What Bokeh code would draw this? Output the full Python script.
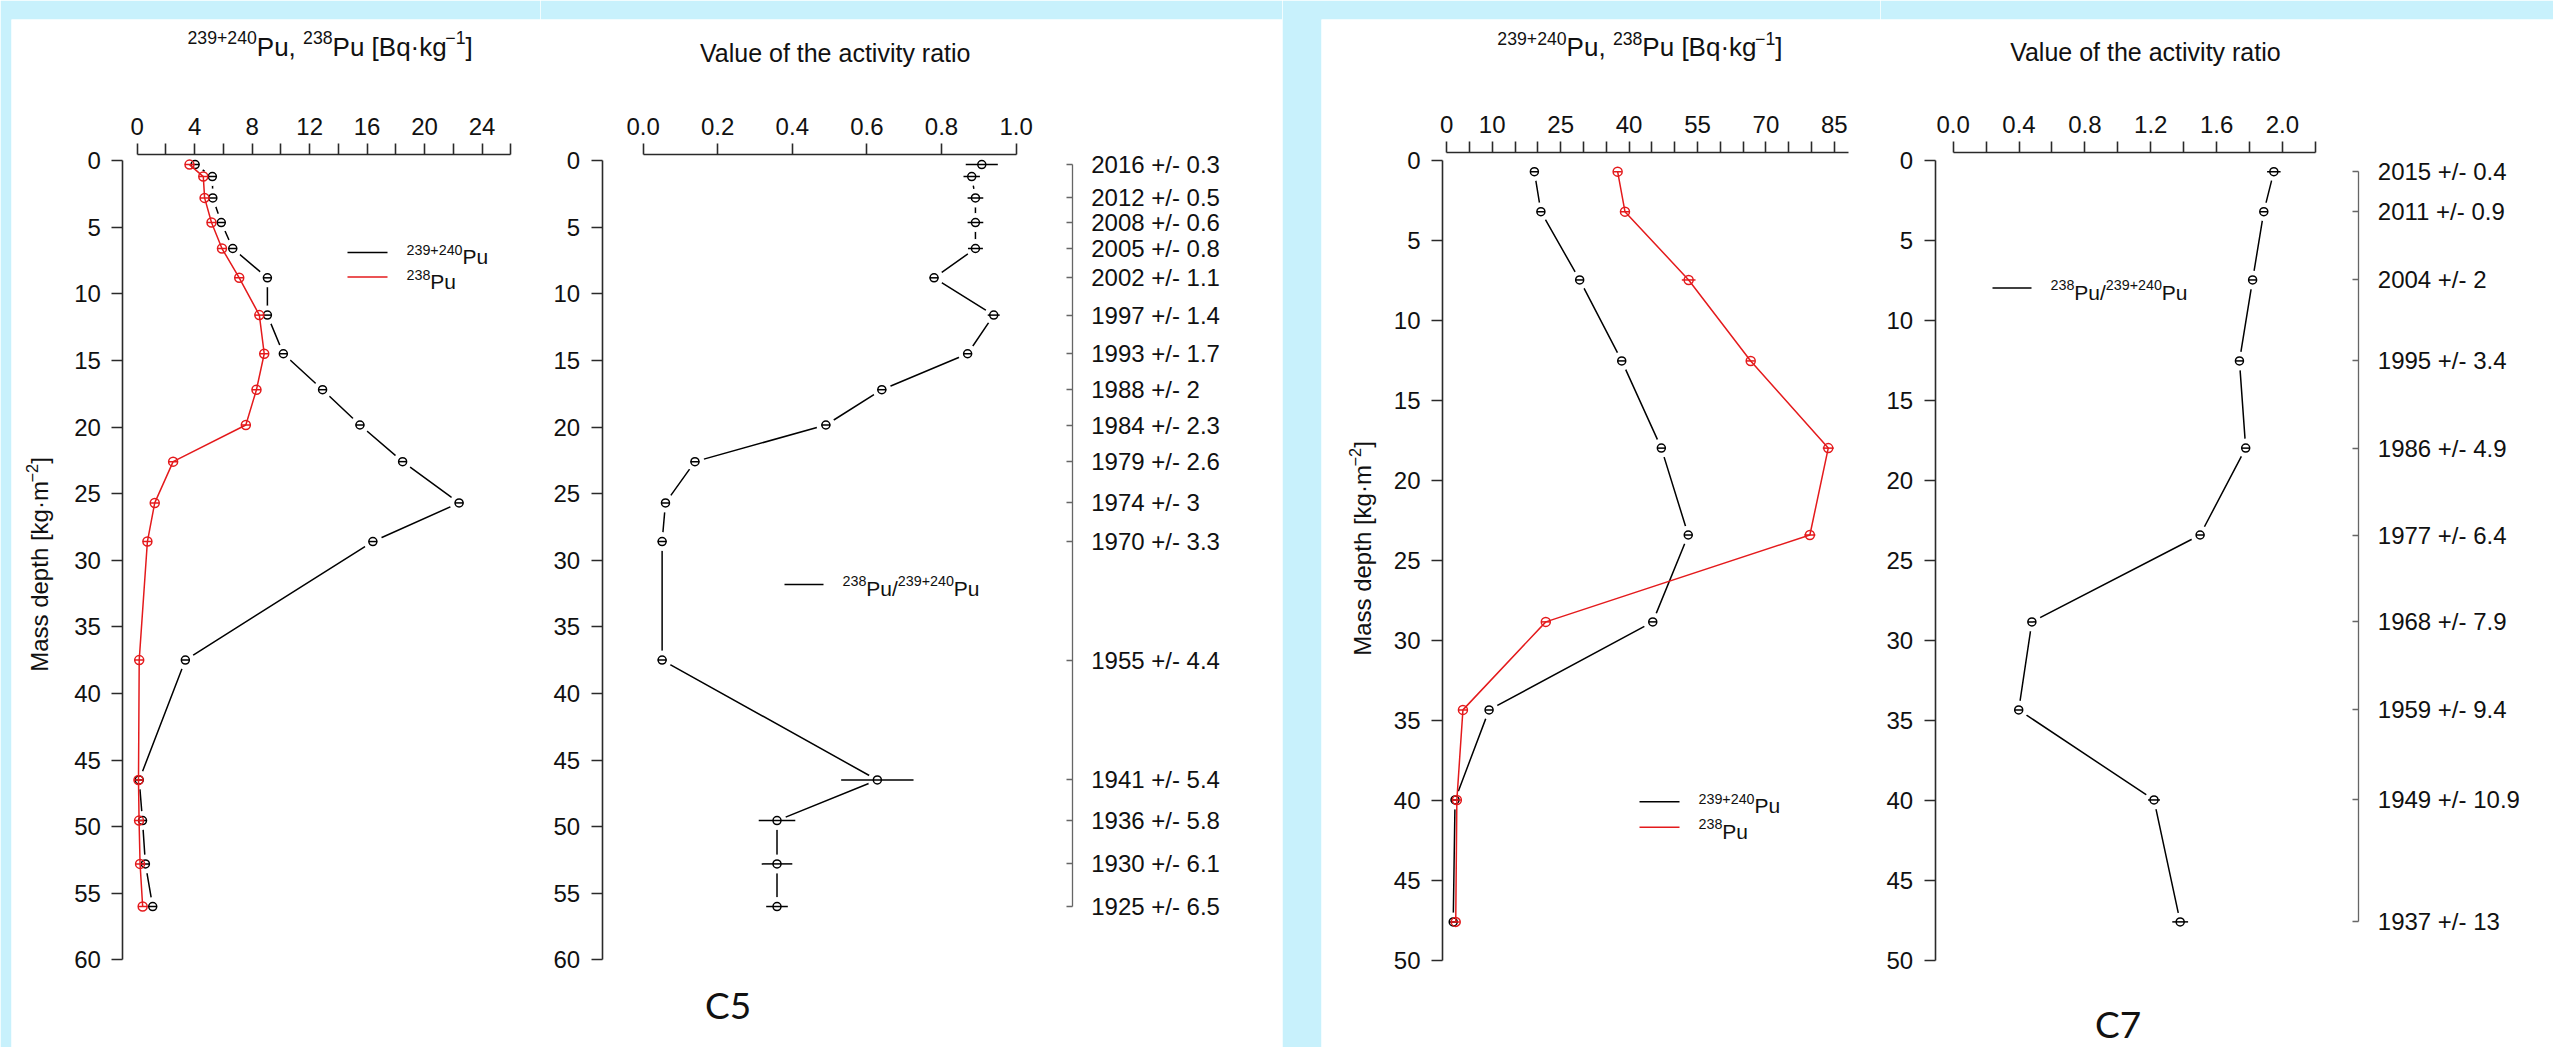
import math
from bokeh.plotting import figure
from bokeh.models import (Range1d, LinearAxis, FixedTicker, Label,
                          CustomJSTickFormatter, NumeralTickFormatter)
from bokeh.layouts import row
from bokeh.embed import file_html
from bokeh.resources import INLINE

# ---------------- data: core C5 ----------------
c5_depth = [0.3, 1.2, 2.8, 4.65, 6.6, 8.8, 11.6, 14.5, 17.2, 19.85, 22.6, 25.7,
            28.6, 37.5, 46.5, 49.55, 52.8, 56.0]
c5_pu239 = [4.03, 5.23, 5.26, 5.85, 6.65, 9.06, 9.06, 10.17, 12.9, 15.5, 18.47, 22.4,
            16.4, 3.35, 0.14, 0.37, 0.57, 1.08]
c5_pu239_err = [0.3] * 18
c5_pu238 = [3.64, 4.6, 4.69, 5.17, 5.9, 7.1, 8.5, 8.84, 8.3, 7.56, 2.5, 1.22,
            0.71, 0.14, 0.09, 0.13, 0.2, 0.38]
c5_pu238_err = [0.32] * 18
c5_ratio = [0.908, 0.881, 0.891, 0.891, 0.891, 0.78, 0.94, 0.87, 0.64, 0.49, 0.139, 0.06,
            0.051, 0.051, 0.628, 0.359, 0.359, 0.359]
c5_ratio_err = [0.043, 0.022, 0.021, 0.021, 0.02, 0.012, 0.016, 0.012, 0.012, 0.012, 0.012,
                0.012, 0.012, 0.012, 0.097, 0.049, 0.041, 0.029]
c5_date_depth = [0.3, 2.8, 4.65, 6.6, 8.8, 11.6, 14.5, 17.2, 19.85, 22.6, 25.7, 28.6,
                 37.5, 46.5, 49.55, 52.8, 56.0]
c5_date_label = ["2016 +/- 0.3", "2012 +/- 0.5", "2008 +/- 0.6", "2005 +/- 0.8",
                 "2002 +/- 1.1", "1997 +/- 1.4", "1993 +/- 1.7", "1988 +/- 2",
                 "1984 +/- 2.3", "1979 +/- 2.6", "1974 +/- 3", "1970 +/- 3.3",
                 "1955 +/- 4.4", "1941 +/- 5.4", "1936 +/- 5.8", "1930 +/- 6.1",
                 "1925 +/- 6.5"]

# ---------------- data: core C7 ----------------
c7_depth = [0.69, 3.19, 7.46, 12.52, 17.97, 23.4, 28.83, 34.33, 39.96, 47.58]
c7_pu239 = [19.24, 20.67, 29.17, 38.39, 47.07, 52.97, 45.19, 9.31, 1.85, 1.45]
c7_pu239_err = [0.9] * 10
c7_pu238 = [37.49, 39.1, 53.06, 66.66, 83.66, 79.63, 21.74, 3.58, 2.25, 2.0]
c7_pu238_err = [0.9, 0.9, 1.5, 0.9, 1.2, 1.2, 0.9, 0.9, 0.9, 0.9]
c7_ratio = [1.948, 1.887, 1.819, 1.739, 1.777, 1.5, 0.478, 0.398, 1.22, 1.379]
c7_ratio_err = [0.041, 0.025, 0.025, 0.025, 0.025, 0.025, 0.025, 0.025, 0.036, 0.048]
c7_date_depth = [0.69, 3.19, 7.46, 12.52, 17.97, 23.4, 28.83, 34.33, 39.96, 47.58]
c7_date_label = ["2015 +/- 0.4", "2011 +/- 0.9", "2004 +/- 2", "1995 +/- 3.4",
                 "1986 +/- 4.9", "1977 +/- 6.4", "1968 +/- 7.9", "1959 +/- 9.4",
                 "1949 +/- 10.9", "1937 +/- 13"]

# ---------------- tick labels ----------------
c5_pu_ticks = [0, 4, 8, 12, 16, 20, 24]
c5_pu_minor = [2, 6, 10, 14, 18, 22, 26]
c5_ratio_ticks = [0.0, 0.2, 0.4, 0.6, 0.8, 1.0]
c5_depth_ticks = [0, 5, 10, 15, 20, 25, 30, 35, 40, 45, 50, 55, 60]
c7_pu_ticks = [0, 10, 25, 40, 55, 70, 85]
c7_pu_minor = [5, 15, 20, 30, 35, 45, 50, 60, 65, 75, 80]
c7_ratio_ticks = [0.0, 0.4, 0.8, 1.2, 1.6, 2.0]
c7_ratio_minor = [0.2, 0.6, 1.0, 1.4, 1.8, 2.2]
c7_depth_ticks = [0, 5, 10, 15, 20, 25, 30, 35, 40, 45, 50]

# ---------------- styling / layout constants ----------------
BG = "#c8f1fc"
FONT = "Liberation Sans"
AXC = "#2a2a2a"
TXT = "#111111"
RED = "#e41a1c"
TOP = 19          # light-blue band above the white panels
H = 1047          # figure height
MID = {FONT: 0.3465, "Lato": 0.387}   # baseline -> middle of the text box, in em

AW = {' ': 278, '+': 584, ',': 278, '-': 333, '.': 278, '/': 278, '[': 278, ']': 278,
      'B': 667, 'P': 667, 'M': 833, 'C': 722, 'V': 667, 'a': 556, 'c': 500, 'd': 556,
      'e': 556, 'f': 278, 'g': 556, 'h': 556, 'i': 222, 'k': 500, 'l': 222, 'm': 833,
      'o': 556, 'p': 556, 'q': 556, 'r': 333, 's': 500, 't': 278, 'u': 556, 'v': 500,
      'y': 500, '\u00b7': 278, '\u2212': 584}
for d in "0123456789":
    AW[d] = 556


def text_w(s, fs):
    return sum(AW.get(c, 556) for c in s) * fs / 1000.0


class Panel:
    """One white panel area; (xm, ym) = (pixel of value 0, pixels per unit)."""

    def __init__(self, fx0, fx1, blue_left, xm, ym):
        self.xm, self.ym = xm, ym
        L, R = fx0 + blue_left, fx1
        self.p = figure(width=fx1 - fx0, height=H, output_backend="svg",
                        toolbar_location=None,
                        x_range=Range1d(self.dx(L), self.dx(R)),
                        y_range=Range1d(self.dy(H), self.dy(TOP)),
                        x_axis_location=None, y_axis_location=None,
                        min_border_left=blue_left, min_border_right=0,
                        min_border_top=TOP, min_border_bottom=0)
        p = self.p
        p.grid.visible = False
        p.outline_line_color = None
        p.background_fill_color = "white"
        p.border_fill_color = BG

    def dx(self, px):
        return (px - self.xm[0]) / self.xm[1]

    def dy(self, py):
        return (py - self.ym[0]) / self.ym[1]

    def label(self, px, py, text, fs, font=FONT, align="left", vertical=False, color=TXT):
        # (px, py): position of the start/centre of the text on its baseline
        m = MID.get(font, 0.35) * fs
        if vertical:
            cx, cy, angle = px - m, py, math.pi / 2
        else:
            cx, cy, angle = px, py - m, 0.0
        self.p.add_layout(Label(x=self.dx(cx), y=self.dy(cy), text=text,
                                text_font=font, text_font_size=f"{fs:.1f}px",
                                text_align=align, text_baseline="middle",
                                angle=angle, text_color=color))

    def rich(self, px, py, pieces, fs, align="left", vertical=False):
        ss = 0.68
        shift = 0.45 * fs
        widths = [text_w(t, fs * ss if s else fs) for t, s in pieces]
        pos = -sum(widths) / 2 if align == "center" else 0.0
        for (t, s), w in zip(pieces, widths):
            size = fs * ss if s else fs
            if vertical:
                self.label(px - (shift if s else 0), py - pos, t, size, vertical=True)
            else:
                self.label(px + pos, py - (shift if s else 0), t, size)
            pos += w

    def legend_key(self, px0, px1, py, color):
        self.p.segment(x0=[self.dx(px0)], x1=[self.dx(px1)], y0=[self.dy(py)],
                       y1=[self.dy(py)], line_color=color, line_width=1.6)


def style_axis(ax, fs="24px"):
    ax.axis_line_color = AXC
    ax.axis_line_width = 1.6
    ax.major_tick_line_color = AXC
    ax.major_tick_line_width = 1.6
    ax.minor_tick_line_color = AXC
    ax.minor_tick_line_width = 1.6
    ax.major_tick_out = 11
    ax.major_tick_in = 0
    ax.minor_tick_out = 11
    ax.minor_tick_in = 0
    ax.major_label_text_font = FONT
    ax.major_label_text_font_size = fs
    ax.major_label_text_color = TXT


def add_axes(pn, top_py, left_px, xticks, xminor, xbounds, yticks, ybounds, ratio_fmt=False):
    top = LinearAxis(ticker=FixedTicker(ticks=xticks, minor_ticks=xminor), bounds=xbounds,
                     fixed_location=pn.dy(top_py))
    style_axis(top)
    top.major_label_standoff = 9
    if ratio_fmt:
        top.formatter = NumeralTickFormatter(format="0.0")
    pn.p.add_layout(top, "above")
    left = LinearAxis(ticker=FixedTicker(ticks=yticks), bounds=ybounds,
                      fixed_location=pn.dx(left_px))
    style_axis(left)
    left.major_label_standoff = 11
    pn.p.add_layout(left, "left")


def add_dates(pn, right_px, depths, labels):
    ax = LinearAxis(ticker=FixedTicker(ticks=depths),
                    formatter=CustomJSTickFormatter(args=dict(labels=labels),
                                                    code="return labels[index];"),
                    bounds=(depths[0], depths[-1]), fixed_location=pn.dx(right_px))
    style_axis(ax)
    ax.axis_line_color = "#666666"
    ax.major_tick_line_color = "#666666"
    ax.axis_line_width = 1.3
    ax.major_tick_line_width = 1.3
    ax.major_tick_out = 0
    ax.major_tick_in = 6
    ax.major_label_standoff = 19
    pn.p.add_layout(ax, "right")


def profile(pn, x, y, err, color, size, gap, lw=1.5):
    p = pn.p
    p.line(x, y, line_color=color, line_width=lw)
    if gap:
        p.scatter(x, y, size=gap, marker="circle", fill_color="white", line_color=None)
    p.segment(x0=[v - e for v, e in zip(x, err)], x1=[v + e for v, e in zip(x, err)],
              y0=y, y1=y, line_color=color, line_width=lw)
    p.scatter(x, y, size=size, marker="circle", fill_color=None, line_color=color,
              line_width=lw)


PU_TITLE = [("239+240", 1), ("Pu, ", 0), ("238", 1), ("Pu [Bq\u00b7kg", 0), ("\u22121", 1), ("]", 0)]
YLAB = [("Mass depth [kg\u00b7m", 0), ("\u22122", 1), ("]", 0)]
LEG_A = [("239+240", 1), ("Pu", 0)]
LEG_B = [("238", 1), ("Pu", 0)]
LEG_R = [("238", 1), ("Pu/", 0), ("239+240", 1), ("Pu", 0)]

# ---------------- C5: concentrations ----------------
A = Panel(0, 540, 11, (136.7, 14.37), (160.1, 13.32))
add_axes(A, 154, 122.4, c5_pu_ticks, c5_pu_minor, (0, 26), c5_depth_ticks, (0, 60))
profile(A, c5_pu239, c5_depth, c5_pu239_err, "black", 8, 19)
profile(A, c5_pu238, c5_depth, c5_pu238_err, RED, 9, 0)
A.rich(329.6, 55.1, PU_TITLE, 26, align="center")
A.rich(47.5, 564, YLAB, 24, align="center", vertical=True)
A.legend_key(347, 387, 252, "black")
A.legend_key(347, 387, 276.5, RED)
A.rich(406, 263.4, LEG_A, 21)
A.rich(406, 288.6, LEG_B, 21)

# ---------------- C5: ratio ----------------
B = Panel(540, 1282, 0, (642.6, 373.0), (160.1, 13.32))
add_axes(B, 154, 601.6, c5_ratio_ticks, [], (0, 1), c5_depth_ticks, (0, 60), ratio_fmt=True)
add_dates(B, 1071.7, c5_date_depth, c5_date_label)
profile(B, c5_ratio, c5_depth, c5_ratio_err, "black", 8, 19)
B.label(834.7, 61, "Value of the activity ratio", 25, align="center")
B.legend_key(784, 823, 584, "black")
B.rich(842, 595, LEG_R, 21)
B.label(727.5, 1018.5, "C5", 37, font="Lato", align="center")

# ---------------- C7: concentrations ----------------
C = Panel(1282, 1880, 39, (1446.1, 4.562), (160.1, 16.0))
add_axes(C, 152, 1442, c7_pu_ticks, c7_pu_minor, (0, 88.2), c7_depth_ticks, (0, 50))
profile(C, c7_pu239, c7_depth, c7_pu239_err, "black", 8, 19)
profile(C, c7_pu238, c7_depth, c7_pu238_err, RED, 9, 0)
C.rich(1639.4, 55.8, PU_TITLE, 26, align="center")
C.rich(1370.5, 548, YLAB, 24, align="center", vertical=True)
C.legend_key(1639, 1679, 801.2, "black")
C.legend_key(1639, 1679, 826.8, RED)
C.rich(1698, 812.6, LEG_A, 21)
C.rich(1698, 837.9, LEG_B, 21)

# ---------------- C7: ratio ----------------
D = Panel(1880, 2553, 0, (1952.7, 164.6), (160.1, 16.0))
add_axes(D, 152, 1934.6, c7_ratio_ticks, c7_ratio_minor, (0, 2.2), c7_depth_ticks, (0, 50),
         ratio_fmt=True)
add_dates(D, 2358.3, c7_date_depth, c7_date_label)
profile(D, c7_ratio, c7_depth, c7_ratio_err, "black", 8, 19)
D.label(2144.9, 60.5, "Value of the activity ratio", 25, align="center")
D.legend_key(1992, 2031, 287.5, "black")
D.rich(2050, 299, LEG_R, 21)
D.label(2117.7, 1037.5, "C7", 37, font="Lato", align="center")

layout = row(A.p, B.p, C.p, D.p)

html = file_html(layout, INLINE, title="Pu profiles C5 C7")
open("out.html", "w").write(html)
